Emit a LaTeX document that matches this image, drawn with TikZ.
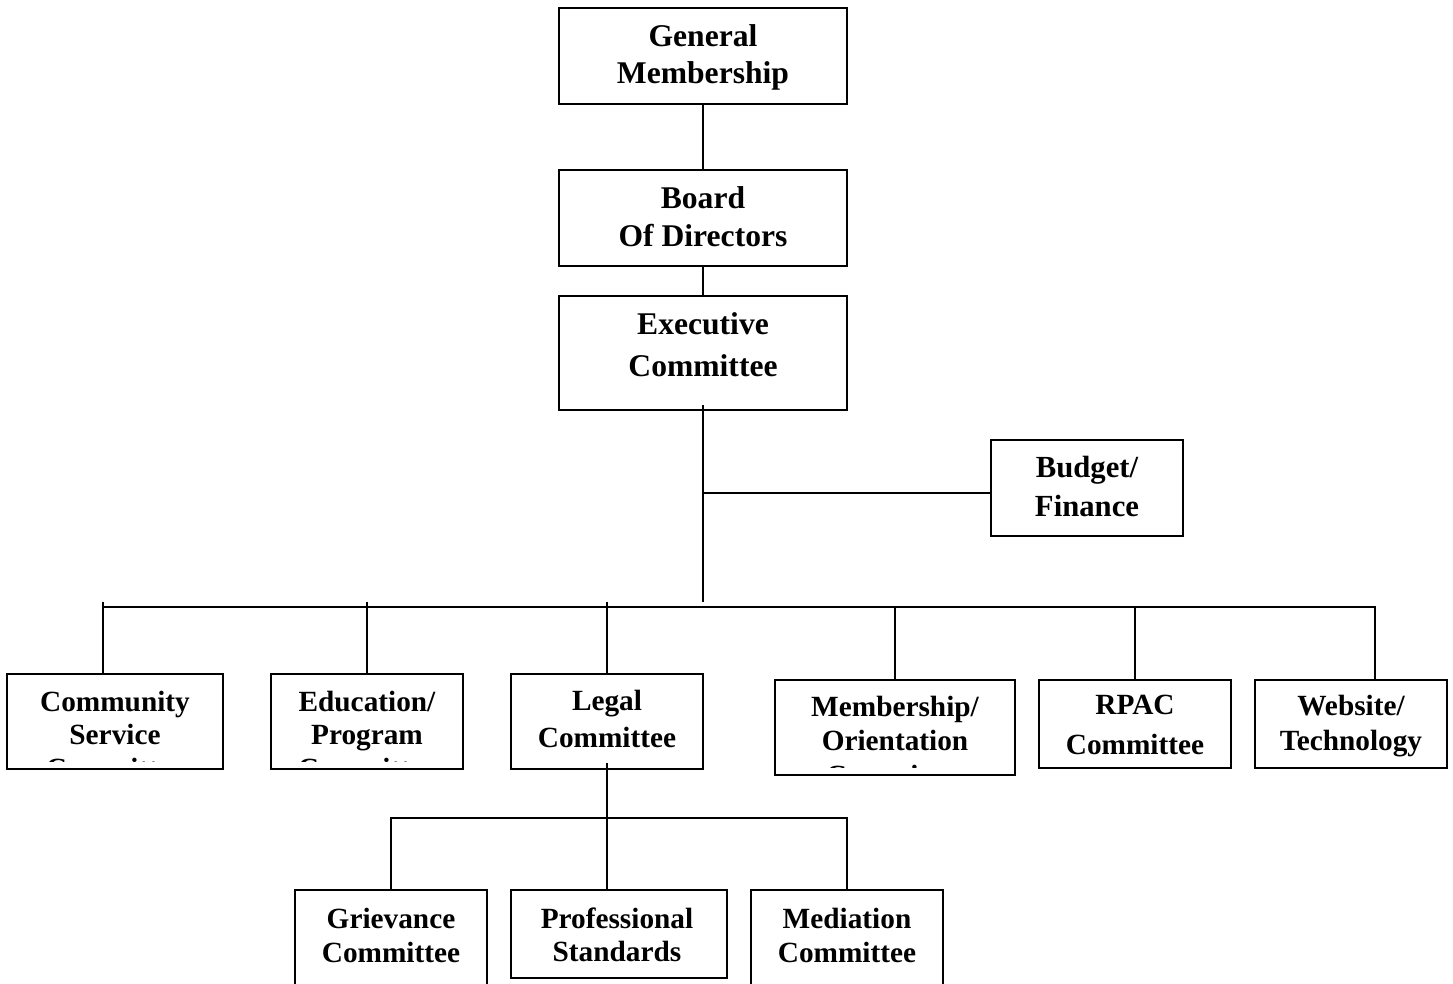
\documentclass[tikz,border=0pt]{standalone}
\usepackage{fontspec}
\setmainfont{Liberation Serif}
\usetikzlibrary{calc}
\begin{document}
\begin{tikzpicture}[x=1pt,y=-1pt,line width=2.1pt,
  box/.style={draw,line width=2.1pt,inner sep=0pt,outer sep=0pt},
  txt/.style 2 args={anchor=north,align=center,inner sep=0pt,outer sep=0pt,
     font=\fontsize{#1}{#2}\selectfont\bfseries}]
\path[use as bounding box,clip] (0,0) rectangle (1453,983);
\fill[white] (0,0) rectangle (1453,983);

% ---- boxes ----
\node[box,minimum width=288,minimum height=96]  (gm)    at (703,56) {};
\node[box,minimum width=288,minimum height=96]  (bod)   at (703,218) {};
\node[box,minimum width=288,minimum height=114] (exec)  at (703,353) {};
\node[box,minimum width=192,minimum height=96]  (bud)   at (1087,488) {};
\node[box,minimum width=216,minimum height=95]  (comm)  at (115,721.5) {};
\node[box,minimum width=192,minimum height=95]  (edu)   at (367,721.5) {};
\node[box,minimum width=192,minimum height=95]  (legal) at (607,721.5) {};
\node[box,minimum width=240,minimum height=95]  (memb)  at (895,727.5) {};
\node[box,minimum width=192,minimum height=88]  (rpac)  at (1135,724) {};
\node[box,minimum width=192,minimum height=88]  (web)   at (1351,724) {};
\node[box,minimum width=192,minimum height=96]  (griev) at (391,938) {};
\node[box,minimum width=216,minimum height=88]  (prof)  at (619,934) {};
\node[box,minimum width=192,minimum height=96]  (med)   at (847,938) {};

% ---- texts ----
\node[txt={31.6}{37}]   (gm-t)    at (703,24.5) {General\\Membership};
\node[txt={31.6}{38.5}] (bod-t)   at (703,186.5) {Board\\Of Directors};
\node[txt={31.6}{41.5}] (exec-t)  at (703,313) {Executive\\Committee};
\node[txt={30.7}{39.5}] (bud-t)   at (1087,456) {Budget/\\Finance};
\begin{scope}
  \clip (comm.north west) rectangle ($(comm.south east)+(0,-8)$);
  \node[txt={29.3}{33.5}] (comm-t) at (115,691) {Community\\Service\\Committee};
\end{scope}
\begin{scope}
  \clip (edu.north west) rectangle ($(edu.south east)+(0,-8)$);
  \node[txt={29.3}{33.5}] (edu-t) at (367,691) {Education/\\Program\\Committee};
\end{scope}
\node[txt={29.3}{37.5}] (legal-t) at (607,690) {Legal\\Committee};
\begin{scope}
  \clip (memb.north west) rectangle ($(memb.south east)+(0,-8)$);
  \node[txt={29.3}{34.5}] (memb-t) at (895,696) {Membership/\\Orientation\\Committee};
\end{scope}
\node[txt={29.3}{39.5}] (rpac-t)  at (1135,695.5) {RPAC\\Committee};
\node[txt={29.3}{35}]   (web-t)   at (1351,695) {Website/\\Technology};
\node[txt={29.3}{34}]   (griev-t) at (391,908.5) {Grievance\\Committee};
\node[txt={29.3}{33}]   (prof-t)  at (617,908) {Professional\\Standards};
\node[txt={29.3}{34}]   (med-t)   at (847,908.5) {Mediation\\Committee};

% ---- connectors ----
\draw (gm.south) -- (bod.north);
\draw (bod.south) -- (exec.north);
\coordinate (exend) at (703,602);
\draw ($(exec.south)+(0,-5)$) -- (exend);
\coordinate (jb) at (703,493);
\draw (jb) -- (jb -| bud.west);

\coordinate (busL) at (103,607);
\coordinate (busR) at (1375,607);
\draw (busL) -- (busR) -- (busR |- web.north);
\coordinate (tc) at (103,602);
\coordinate (te) at (367,602);
\coordinate (tl) at (607,602);
\draw (tc) -- (tc |- comm.north);
\draw (te) -- (edu.north);
\draw (tl) -- (legal.north);
\draw (memb.north |- busL) -- (memb.north);
\draw (rpac.north |- busL) -- (rpac.north);

\coordinate (sbL) at (391,818);
\coordinate (sbR) at (847,818);
\draw (griev.north) -- (sbL) -- (sbR) -- (med.north);
\draw ($(legal.south)+(0,-6)$) -- (legal.south |- prof.north);
\end{tikzpicture}
\end{document}
